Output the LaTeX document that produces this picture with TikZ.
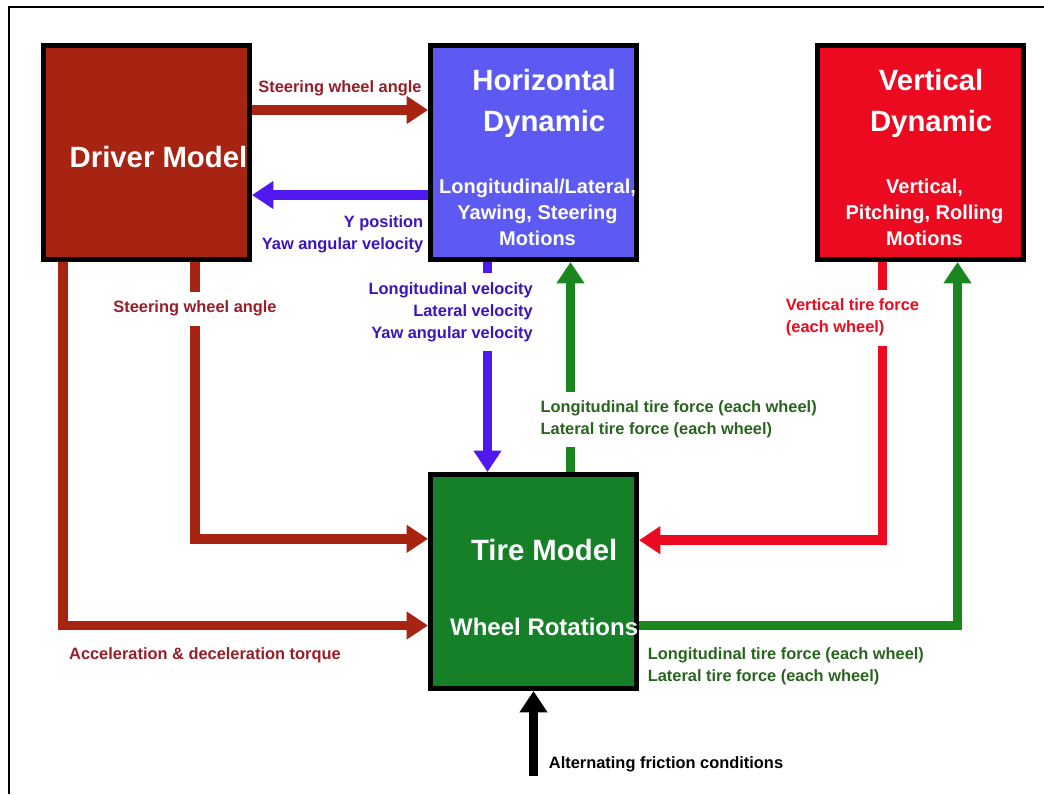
\documentclass[tikz,border=0pt]{standalone}
\usepackage{fontspec}
\setmainfont{Liberation Sans}
\usetikzlibrary{arrows.meta,positioning}
\definecolor{drvred}{RGB}{168,36,18}
\definecolor{drvtext}{RGB}{150,30,40}
\definecolor{hzblue}{RGB}{92,90,242}
\definecolor{hzarrow}{RGB}{80,25,240}
\definecolor{hztext}{RGB}{60,20,190}
\definecolor{vtred}{RGB}{236,10,32}
\definecolor{tirgreen}{RGB}{22,128,40}
\definecolor{tirarrow}{RGB}{25,135,30}
\definecolor{tirtext}{RGB}{40,100,30}
\newcommand{\ttlfont}{\fontsize{22}{30.75}\selectfont}
\newcommand{\subfont}{\fontsize{15}{19.5}\selectfont}
\newcommand{\whlfont}{\fontsize{18}{22}\selectfont}
\newcommand{\lblfont}{\fontsize{12.3}{16.5}\selectfont}
\newcommand{\ttlline}[1]{\hspace*{10pt}\ttlfont #1}
\tikzset{
  blk/.style={draw=black,line width=3.75pt,minimum width=154.5pt,minimum height=160.5pt,inner sep=0pt},
  blktxt/.style={text=white,align=center,font=\bfseries\subfont,inner sep=0pt},
  flw/.style={-{Triangle[length=16pt,width=20pt]},line width=7.2pt},
  lbl/.style={font=\bfseries\lblfont,inner sep=1pt},
  cut/.style={lbl,fill=white,inner xsep=1pt,inner ysep=7pt}
}

\begin{document}
\begin{tikzpicture}[x=0.75pt,y=-0.75pt,node distance=132pt]
  \useasboundingbox (0,0) rectangle (1044,794);
  \draw[line width=1.1pt] (1044,7) -| (9,794);
  % blocks
  \node[blk,fill=drvred,label={[blktxt,xshift=9pt,yshift=-3.75pt]center:{\ttlfont Driver Model}}] (driver) at (146.5,152.5) {};
  \node[blk,fill=hzblue,right=of driver,
        label={[blktxt,xshift=3pt,yshift=-3.4pt]center:{\ttlline{Horizontal}\\[11.25pt]\ttlline{Dynamic}\\[27pt]\subfont Longitudinal/Lateral,\\\subfont Yawing, Steering\\\subfont Motions}}] (horiz) {};
  \node[blk,fill=vtred,right=of horiz,
        label={[blktxt,xshift=3pt,yshift=-3.4pt]center:{\ttlline{Vertical}\\[11.25pt]\ttlline{Dynamic}\\[27pt]\subfont Vertical,\\\subfont Pitching, Rolling\\\subfont Motions}}] (vert) {};
  \node[blk,fill=tirgreen,below=157.5pt of horiz,
        label={[blktxt,xshift=8pt,yshift=-4.5pt]center:{\ttlfont Tire Model\\[36.75pt]\whlfont Wheel Rotations}}] (tire) {};
  \coordinate[below=63.75pt of tire.south] (fric);
  % connectors
  \draw[flw,drvred] ([yshift=31.875pt]driver.east) -- ([yshift=31.875pt]horiz.west)
    node[lbl,midway,above,yshift=6.25pt,text=drvtext]{Steering wheel angle};
  \draw[flw,hzarrow] ([yshift=-31.875pt]horiz.west) -- ([yshift=-31.875pt]driver.east)
    node[lbl,pos=0,below left,yshift=-11pt,xshift=1pt,align=right,text=hztext]{Y position\\Yaw angular velocity};
  \draw[flw,drvred] ([xshift=36.4pt]driver.south) |- ([yshift=32pt]tire.west)
    node[cut,pos=.084,text=drvtext]{Steering wheel angle};
  \draw[flw,drvred] ([xshift=-62.6pt]driver.south) |- ([yshift=-33pt]tire.west)
    node[lbl,pos=.5,below right,yshift=-12pt,text=drvtext]{Acceleration \& deceleration torque};
  \draw[flw,hzarrow] ([xshift=-34.5pt]horiz.south) -- ([xshift=-34.5pt]tire.north)
    node[cut,pos=.24,anchor=east,xshift=38.5pt,align=right,text=hztext]{Longitudinal velocity\\Lateral velocity\\Yaw angular velocity};
  \draw[flw,tirarrow] ([xshift=27.75pt]tire.north) -- ([xshift=27.75pt]horiz.south)
    node[cut,pos=.25,anchor=west,xshift=-27pt,align=left,text=tirtext]{Longitudinal tire force (each wheel)\\Lateral tire force (each wheel)};
  \draw[flw,vtred] ([xshift=-28.5pt]vert.south) |- ([yshift=31pt]tire.east)
    node[cut,pos=.1,anchor=west,xshift=-77pt,align=left,text=vtred]{Vertical tire force\\(each wheel)};
  \draw[flw,tirarrow] ([yshift=-33pt]tire.east) -| ([xshift=27.75pt]vert.south)
    node[lbl,pos=0,below right,yshift=-12pt,xshift=2pt,align=left,text=tirtext]{Longitudinal tire force (each wheel)\\Lateral tire force (each wheel)};
  \draw[flw,black] (fric) -- (tire.south)
    node[lbl,pos=.14,anchor=west,xshift=7pt]{Alternating friction conditions};
\end{tikzpicture}
\end{document}
